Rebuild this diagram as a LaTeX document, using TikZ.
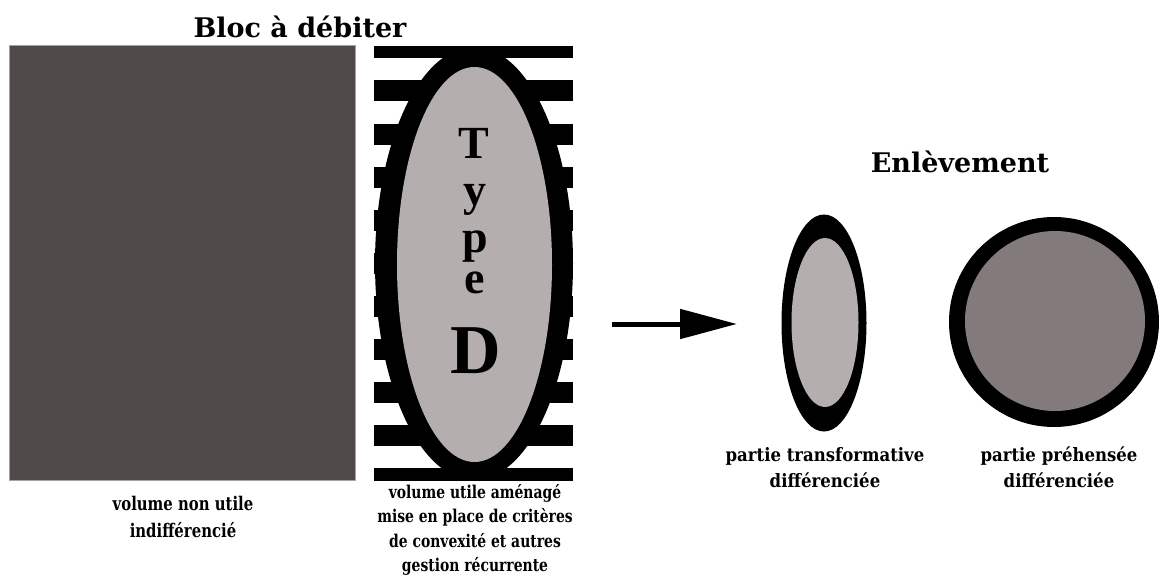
\documentclass[tikz,border=0pt]{standalone}
\usepackage{fontspec}
\usetikzlibrary{arrows.meta,shapes.geometric}
\newfontfamily\labfont{DejaVu Serif}
\newfontfamily\timesfont{Liberation Serif}
\definecolor{rectdark}{RGB}{79,73,73}
\definecolor{ellgray}{RGB}{180,174,174}
\definecolor{circgray}{RGB}{131,123,123}
\definecolor{rimgray}{RGB}{165,162,162}
\newcommand\labtxt[1]{\scalebox{0.87}[1.1]{#1}}
\newcommand\labtxtwide[1]{\scalebox{0.87}[0.97]{#1}}
\begin{document}
\begin{tikzpicture}[x=1pt,y=-1pt,
  title/.style={font=\labfont\bfseries\fontsize{27}{30}\selectfont, anchor=base, inner sep=0pt},
  lab/.style={font=\labfont\bfseries\fontsize{16}{20}\selectfont, anchor=base, inner sep=0pt},
  lableft/.style={font=\labfont\bfseries\fontsize{17.1}{20}\selectfont, anchor=base, inner sep=0pt},
  labright/.style={font=\labfont\bfseries\fontsize{19}{22}\selectfont, anchor=base, inner sep=0pt},
  typeletter/.style={font=\timesfont\bfseries\fontsize{46}{50}\selectfont, anchor=base, inner sep=0pt},
  bar/.style={fill=black},
  ring/.style={ellipse, fill=black, inner sep=0pt},
  core/.style={ellipse, inner sep=0pt}]
\useasboundingbox (0,0) rectangle (1160,578);
\fill[white] (0,0) rectangle (1160,578);

% block
\node[fill=rectdark, draw=rimgray, line width=0.8pt, minimum width=346pt, minimum height=435pt,
      anchor=north west, inner sep=0pt] (bloc) at (9,45) {};

% striped area
\begin{scope}
  \clip (374,47) rectangle (573,480);
  \foreach \k in {0,...,10} {
    \fill[bar] (374,{48+43*\k-10.5}) rectangle (573,{48+43*\k+10.5});
  }
\end{scope}
\node[ring, minimum width=198pt, minimum height=433pt] (typeout) at (474,263.5) {};
\node[core, fill=ellgray, minimum width=155pt, minimum height=395pt] (typein) at (474.5,264.5) {};

% Type D text
\node[typeletter] (tT) at (474,158) {T};
\node[typeletter] (ty) at (475,205) {y};
\node[typeletter, text depth=0pt] (tp) at (475,252) {\smash{p}};
\node[typeletter] (te) at (475,293) {e};
\node[typeletter, font=\timesfont\bfseries\fontsize{70}{74}\selectfont] (tD) at (476,373) {D};

% arrow
\coordinate (arrA) at (612,324);
\coordinate (arrB) at (737,324);
\draw[line width=5pt, -{Triangle[length=57pt,width=29pt]}] (arrA) -- (arrB);

% small ellipse
\node[ring, minimum width=85pt, minimum height=217pt] (transout) at (824,323) {};
\node[core, fill=ellgray, minimum width=67pt, minimum height=169pt] (transin) at (825,322.5) {};

% circle
\node[circle, fill=black, inner sep=0pt, minimum size=210pt] (prehout) at (1054,322) {};
\node[circle, fill=circgray, inner sep=0pt, minimum size=180pt] (prehin) at (1055,321) {};

% titles
\node[title] (t1) at (300,38) {Bloc à débiter};
\node[title] (t2) at (960,172) {Enlèvement};

% labels
\node[lableft] (l1a) at (183,510) {\labtxt{volume non utile}};
\node[lableft] (l1b) at (183,537) {\labtxt{indifférencié}};

\node[lab] (l2a) at (475,498) {\labtxt{volume utile aménagé}};
\node[lab] (l2b) at (475,522.5) {\labtxt{mise en place de critères}};
\node[lab] (l2c) at (475,547) {\labtxt{de convexité et autres}};
\node[lab] (l2d) at (475,571.5) {\labtxt{gestion récurrente}};

\node[labright] (l3a) at (825,461) {\labtxtwide{partie transformative}};
\node[labright] (l3b) at (825,487) {\labtxtwide{différenciée}};

\node[labright] (l4a) at (1059,461) {\labtxtwide{partie préhensée}};
\node[labright] (l4b) at (1059,487) {\labtxtwide{différenciée}};
\end{tikzpicture}
\end{document}
